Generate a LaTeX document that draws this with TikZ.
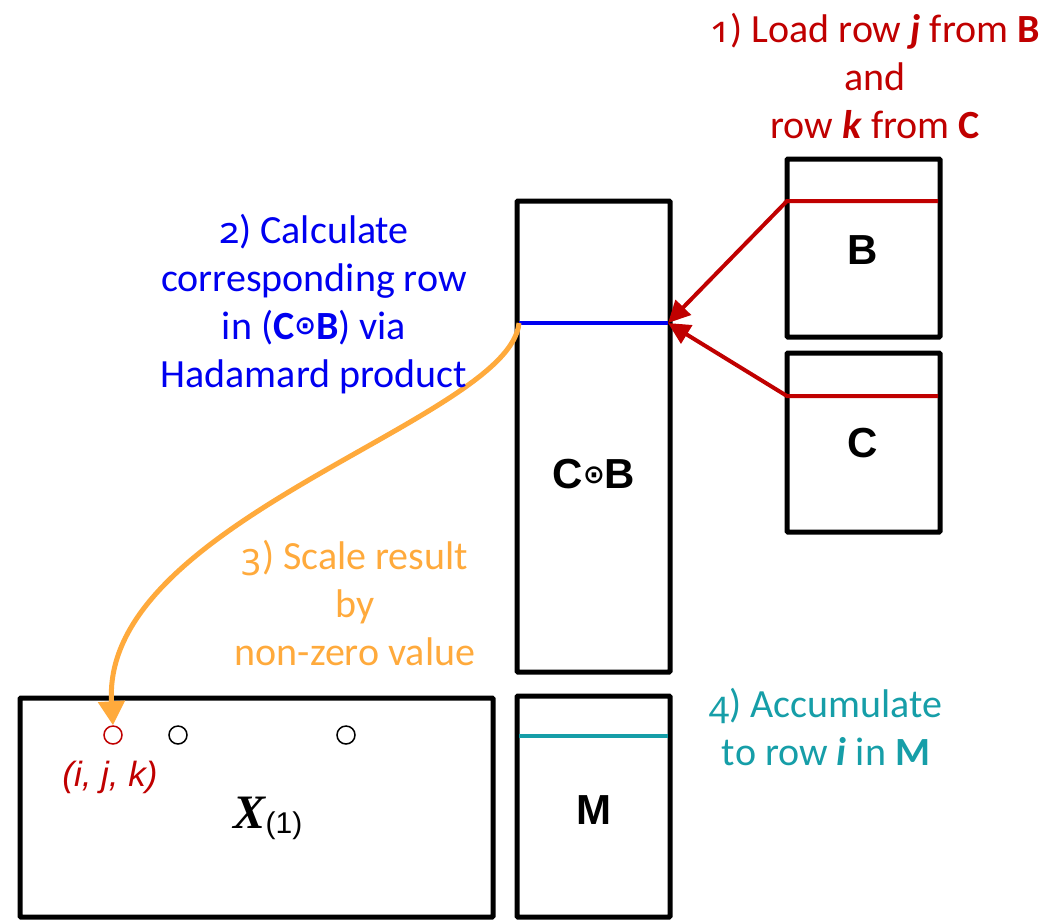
\documentclass[tikz,border=0pt]{standalone}
\usepackage{fontspec}
\setmainfont{Carlito}
\newfontfamily\arialfont{Liberation Sans}
\newfontfamily\timesfont{Liberation Serif}
\newfontfamily\symfont{DejaVu Sans}
\newfontfamily\numfont{Noto Sans}[Numbers=OldStyle]
\usetikzlibrary{arrows.meta}

\definecolor{loadred}{RGB}{192,0,0}
\definecolor{calcblue}{RGB}{0,0,240}
\definecolor{scaleorange}{RGB}{255,170,60}
\definecolor{accteal}{RGB}{22,158,168}

\newcommand{\hada}{{\symfont\fontsize{26}{26}\selectfont\raisebox{0.18em}{⊙}}}
\newcommand{\stepno}[1]{{\numfont\fontsize{37}{48}\selectfont #1}}

\tikzset{
  matbox/.style={draw=black, line width=5pt, rounded corners=1pt},
  steptext/.style={align=center, font=\fontsize{40}{48}\selectfont},
  matlabel/.style={font=\arialfont\bfseries\fontsize{42}{44}\selectfont},
  nzdot/.style={circle, draw, line width=1.5pt, minimum size=18pt, inner sep=0pt},
  loadarrow/.style={loadred, line width=4pt, -{Triangle[length=22pt,width=21pt]}},
}

\begin{document}
\begin{tikzpicture}[x=1pt, y=-1pt]
  \useasboundingbox (0,0) rectangle (1051,919);

  % matrices B and C
  \draw[matbox] (787,159) rectangle (940,337);
  \draw[matbox] (787,353) rectangle (940,532);
  \node[matlabel] (B) at (863,250) {B};
  \node[matlabel] (C) at (863,443) {C};

  % Khatri-Rao product and M
  \draw[matbox] (517,201) rectangle (670,672);
  \node[matlabel] (CB) at (594,474) {C\hada B};
  \draw[matbox] (517,696) rectangle (670,917);
  \node[matlabel] (M) at (594,810) {M};

  % tensor X(1)
  \draw[matbox] (20,698) rectangle (493,917);
  \node (X) at (268,818) {{\timesfont\bfseries\itshape\fontsize{48}{48}\selectfont X}\raisebox{-0.5em}{\arialfont\fontsize{30}{30}\selectfont(1)}};
  \node[nzdot, draw=loadred] (nzA) at (113,735) {};
  \node[nzdot] (nzB) at (178,735) {};
  \node[nzdot] (nzC) at (346,735) {};
  \node[text=loadred, font=\arialfont\itshape\fontsize{35}{36}\selectfont] (ijk) at (110,777) {(\textit{i}, \textit{j}, \textit{k})};

  % rows
  \coordinate (Bj) at (787,201);
  \coordinate (BjR) at (938,201);
  \coordinate (Ck) at (787,396);
  \coordinate (CkR) at (938,396);
  \coordinate (rowL) at (519,323);
  \coordinate (rowR) at (668,323);
  \coordinate (MiL) at (519,736);
  \coordinate (MiR) at (668,736);
  \draw[calcblue, line width=4.5pt] (rowL) -- (rowR);
  \draw[accteal, line width=4.5pt] (MiL) -- (MiR);
  \draw[loadarrow] (BjR) -- (Bj) -- (rowR);
  \draw[loadarrow] (CkR) -- (Ck) -- (rowR);

  % scaling step
  \draw[scaleorange, line width=5pt, -{Triangle[length=24pt,width=26pt]}]
    (rowL) .. controls (510,420) and (100,520) .. (nzA.north);

  % step texts
  \node[steptext, text=loadred] (step1) at (875,76) {\stepno{1}) Load row \textbf{\textit{j}} from \textbf{B}\\ and\\ row \textbf{\textit{k}} from \textbf{C}};
  \node[steptext, text=calcblue] (step2) at (314,304) {\stepno{2}) Calculate\\ corresponding row\\ in (\textbf{C\hada B}) via\\ Hadamard product};
  \node[steptext, text=scaleorange] (step3) at (355,603) {\stepno{3}) Scale result\\ by\\ non-zero value};
  \node[steptext, text=accteal] (step4) at (826,727) {\stepno{4}) Accumulate\\ to row \textbf{\textit{i}} in \textbf{M}};
\end{tikzpicture}
\end{document}
